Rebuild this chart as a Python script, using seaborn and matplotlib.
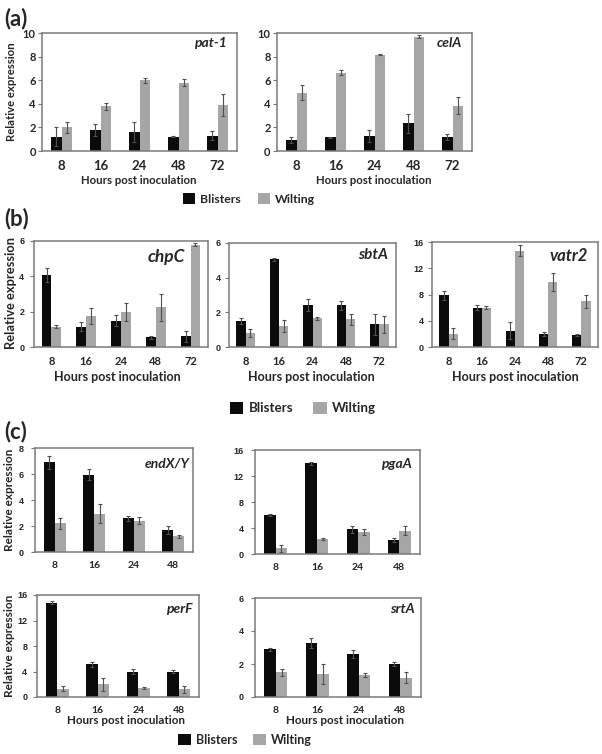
import matplotlib
matplotlib.use('Agg')
import matplotlib.pyplot as plt
from matplotlib.patches import Patch
import seaborn as sns
import pandas as pd

# --- data ---
hours_5 = ['8', '16', '24', '48', '72']
hours_4 = ['8', '16', '24', '48']

pat1_blisters = [1.2, 1.8, 1.65, 1.2, 1.3]
pat1_blisters_err = [0.8, 0.5, 0.85, 0.05, 0.4]
pat1_wilting = [2.0, 3.8, 6.0, 5.8, 3.9]
pat1_wilting_err = [0.5, 0.3, 0.2, 0.3, 0.9]

celA_blisters = [0.9, 1.15, 1.25, 2.35, 1.15]
celA_blisters_err = [0.25, 0.05, 0.5, 0.8, 0.25]
celA_wilting = [4.95, 6.65, 8.15, 9.7, 3.85]
celA_wilting_err = [0.65, 0.2, 0.05, 0.15, 0.7]

chpC_blisters = [4.1, 1.15, 1.5, 0.55, 0.6]
chpC_blisters_err = [0.4, 0.25, 0.3, 0.1, 0.3]
chpC_wilting = [1.15, 1.75, 2.0, 2.25, 5.8]
chpC_wilting_err = [0.1, 0.45, 0.5, 0.75, 0.1]

sbtA_blisters = [1.5, 5.05, 2.4, 2.4, 1.3]
sbtA_blisters_err = [0.2, 0.1, 0.35, 0.25, 0.6]
sbtA_wilting = [0.8, 1.2, 1.65, 1.6, 1.3]
sbtA_wilting_err = [0.23, 0.33, 0.1, 0.33, 0.5]

vatr2_blisters = [7.9, 6.0, 2.5, 2.0, 1.85]
vatr2_blisters_err = [0.7, 0.35, 1.25, 0.25, 0.1]
vatr2_wilting = [2.0, 6.0, 14.7, 9.9, 7.0]
vatr2_wilting_err = [0.85, 0.25, 0.9, 1.4, 1.0]

endXY_blisters = [6.9, 5.95, 2.6, 1.7]
endXY_blisters_err = [0.5, 0.4, 0.2, 0.3]
endXY_wilting = [2.2, 2.95, 2.4, 1.2]
endXY_wilting_err = [0.43, 0.74, 0.28, 0.13]

pgaA_blisters = [6.0, 13.95, 3.8, 2.15]
pgaA_blisters_err = [0.2, 0.25, 0.5, 0.25]
pgaA_wilting = [0.9, 2.3, 3.4, 3.6]
pgaA_wilting_err = [0.56, 0.1, 0.4, 0.7]

perF_blisters = [14.8, 5.15, 4.0, 4.0]
perF_blisters_err = [0.26, 0.37, 0.47, 0.16]
perF_wilting = [1.3, 2.0, 1.45, 1.2]
perF_wilting_err = [0.37, 1.0, 0.16, 0.6]

srtA_blisters = [2.9, 3.3, 2.6, 2.0]
srtA_blisters_err = [0.1, 0.3, 0.22, 0.14]
srtA_wilting = [1.5, 1.38, 1.32, 1.18]
srtA_wilting_err = [0.22, 0.6, 0.12, 0.35]

groups = ['Blisters', 'Wilting']
colors = {'Blisters': '#0b0b0b', 'Wilting': '#a6a6a6'}
frame = '#7a7a7a'

sns.set_style('white')
plt.rcParams['font.family'] = ['Lato', 'DejaVu Sans']

W, H = 602, 754
fig = plt.figure(figsize=(W / 100, H / 100), dpi=100)


def px_axes(x0, y0, x1, y1):
    return fig.add_axes([x0 / W, 1 - y1 / H, (x1 - x0) / W, (y1 - y0) / H])


def draw(ax, hours, blis, blis_err, wilt, wilt_err, gene, yticks,
         tick_fs, ytick_fs, ytick_pad, gene_fs, gene_xy, ytick_font='Lato'):
    n = len(hours)
    df = pd.DataFrame({'Hours': hours * 2,
                       'Expr': blis + wilt,
                       'Group': ['Blisters'] * n + ['Wilting'] * n})
    sns.barplot(data=df, x='Hours', y='Expr', hue='Group', order=hours,
                hue_order=groups, palette=colors, width=0.56, errorbar=None,
                legend=False, saturation=1, linewidth=0, ax=ax)
    for cont, errs in zip(ax.containers, [blis_err, wilt_err]):
        xs = [p.get_x() + p.get_width() / 2 for p in cont]
        hs = [p.get_height() for p in cont]
        ax.errorbar(xs, hs, yerr=errs, fmt='none', ecolor='#505050',
                    elinewidth=0.8, capsize=1.6, capthick=0.8)
    ax.set_ylim(yticks[0], yticks[-1])
    ax.set_yticks(yticks)
    ax.set_xlim(-0.5, n - 0.5)
    ax.set_xlabel('')
    ax.set_ylabel('')
    for s in ax.spines.values():
        s.set_color(frame)
        s.set_linewidth(1.1)
    ax.tick_params(axis='y', left=True, length=3, width=0.8, color=frame,
                   pad=ytick_pad, labelsize=ytick_fs)
    ax.tick_params(axis='x', bottom=False, pad=3, labelsize=tick_fs)
    for lab in ax.get_yticklabels():
        lab.set_fontweight('bold')
        lab.set_family(ytick_font)
    for lab in ax.get_xticklabels():
        lab.set_fontweight('bold')
    ax.text(gene_xy[0], gene_xy[1], gene, transform=ax.transAxes, ha='right',
            va='center', fontsize=gene_fs, fontweight='bold', style='italic')


def add_legend(cx, cy, fs, spacing):
    handles = [Patch(facecolor=colors[g], edgecolor='none', label=g) for g in groups]
    leg = fig.legend(handles=handles, loc='center', ncol=2, frameon=False,
                     bbox_to_anchor=(cx / W, 1 - cy / H), fontsize=fs,
                     handlelength=1.0, handleheight=1.0, handletextpad=0.4,
                     columnspacing=spacing)
    for t in leg.get_texts():
        t.set_fontweight('bold')


def ylab(x, y, fs):
    fig.text(x / W, 1 - y / H, 'Relative expression', rotation=90,
             ha='center', va='center', fontsize=fs, fontweight='bold')


def xlab(x, y, fs):
    fig.text(x / W, 1 - y / H, 'Hours post inoculation',
             ha='center', va='center', fontsize=fs, fontweight='bold')


# ---------------- (a) ----------------
fig.text(4 / W, 1 - 19 / H, '(a)', fontsize=16, fontweight='bold', va='center')
ax = px_axes(42, 33, 237, 151)
draw(ax, hours_5, pat1_blisters, pat1_blisters_err, pat1_wilting, pat1_wilting_err,
     'pat-1', [0, 2, 4, 6, 8, 10], 9.5, 8, 1.5, 10, (0.95, 0.915))
ax = px_axes(277, 33, 472, 151)
draw(ax, hours_5, celA_blisters, celA_blisters_err, celA_wilting, celA_wilting_err,
     'celA', [0, 2, 4, 6, 8, 10], 9.5, 8, 1.5, 10, (0.95, 0.915))
ylab(12, 92, 8.2)
xlab(139, 180, 8.2)
xlab(374, 180, 8.2)
add_legend(249, 199, 8.8, 1.4)

# ---------------- (b) ----------------
fig.text(4 / W, 1 - 219 / H, '(b)', fontsize=16, fontweight='bold', va='center')
ax = px_axes(34, 241, 208, 347)
draw(ax, hours_5, chpC_blisters, chpC_blisters_err, chpC_wilting, chpC_wilting_err,
     'chpC', [0, 2, 4, 6], 8, 6.5, 4, 12.5, (0.87, 0.85), ytick_font='Liberation Sans')
ax = px_axes(229, 243, 396, 347)
draw(ax, hours_5, sbtA_blisters, sbtA_blisters_err, sbtA_wilting, sbtA_wilting_err,
     'sbtA', [0, 2, 4, 6], 8, 6.5, 3, 11, (0.95, 0.885), ytick_font='Liberation Sans')
ax = px_axes(432, 242, 598, 347)
draw(ax, hours_5, vatr2_blisters, vatr2_blisters_err, vatr2_wilting, vatr2_wilting_err,
     'vatr2', [0, 4, 8, 12, 16], 8, 6.5, 3, 12, (0.94, 0.87), ytick_font='Liberation Sans')
ylab(11, 293, 9.3)
xlab(117, 377, 9)
xlab(311, 377, 9)
xlab(515, 377, 9)
add_legend(303, 408, 9.6, 1.5)

# ---------------- (c) ----------------
fig.text(4 / W, 1 - 432 / H, '(c)', fontsize=16, fontweight='bold', va='center')
ax = px_axes(35, 448, 193, 552)
draw(ax, hours_4, endXY_blisters, endXY_blisters_err, endXY_wilting, endXY_wilting_err,
     'endX/Y', [0, 2, 4, 6, 8], 7.5, 6.5, 5, 10, (0.98, 0.855), ytick_font='Liberation Sans')
ax = px_axes(255, 450, 420, 554)
draw(ax, hours_4, pgaA_blisters, pgaA_blisters_err, pgaA_wilting, pgaA_wilting_err,
     'pgaA', [0, 4, 8, 12, 16], 7.5, 6.5, 5, 10, (0.95, 0.87), ytick_font='Liberation Sans')
ax = px_axes(37, 595, 199, 697)
draw(ax, hours_4, perF_blisters, perF_blisters_err, perF_wilting, perF_wilting_err,
     'perF', [0, 4, 8, 12, 16], 7.5, 6.5, 4, 10, (0.96, 0.86), ytick_font='Liberation Sans')
ax = px_axes(255, 598, 421, 697)
draw(ax, hours_4, srtA_blisters, srtA_blisters_err, srtA_wilting, srtA_wilting_err,
     'srtA', [0, 2, 4, 6], 7.5, 6.5, 5, 10, (0.96, 0.89), ytick_font='Liberation Sans')
ylab(10, 500, 8.5)
ylab(10, 646, 8.5)
xlab(126, 720, 8.4)
xlab(345, 720, 8.4)
add_legend(245, 740, 9.0, 1.3)

fig.savefig('out.png', dpi=100, facecolor='white')
